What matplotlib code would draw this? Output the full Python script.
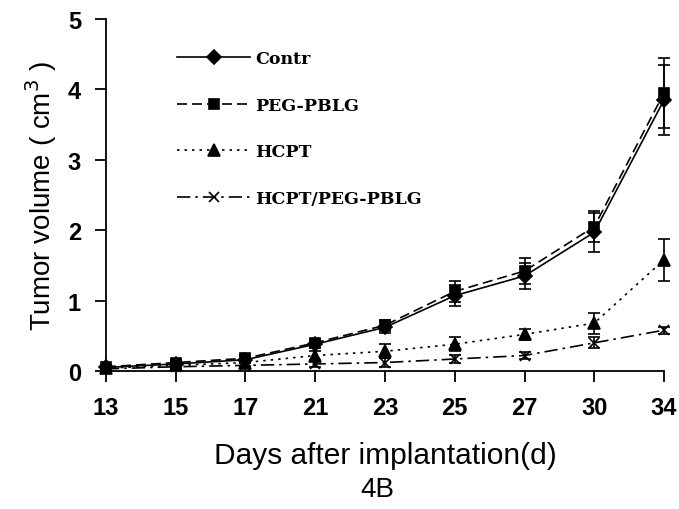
import matplotlib
matplotlib.use("Agg")
import matplotlib.pyplot as plt
from matplotlib.lines import Line2D
import numpy as np

days = ["13", "15", "17", "21", "23", "25", "27", "30", "34"]
contr = [0.05, 0.10, 0.16, 0.38, 0.62, 1.07, 1.35, 1.97, 3.85]
contr_err = [0.03, 0.04, 0.05, 0.06, 0.08, 0.15, 0.18, 0.28, 0.50]
peg = [0.06, 0.12, 0.18, 0.40, 0.65, 1.13, 1.42, 2.05, 3.95]
peg_err = [0.03, 0.04, 0.05, 0.06, 0.08, 0.15, 0.18, 0.22, 0.50]
hcpt = [0.04, 0.08, 0.12, 0.22, 0.28, 0.38, 0.52, 0.68, 1.58]
hcpt_err = [0.03, 0.04, 0.05, 0.06, 0.10, 0.10, 0.08, 0.15, 0.30]
combo = [0.03, 0.06, 0.08, 0.10, 0.12, 0.17, 0.22, 0.40, 0.58]
combo_err = [0.02, 0.03, 0.03, 0.04, 0.06, 0.06, 0.05, 0.08, 0.05]
labels = ["Contr", "PEG-PBLG", "HCPT", "HCPT/PEG-PBLG"]

fig = plt.figure(figsize=(6.79, 5.10), dpi=100)
ax = fig.add_axes([0.156, 0.2706, 0.822, 0.6904])
x = np.arange(len(days))

styles = [
    (contr, contr_err, "D", "-", 7),
    (peg, peg_err, "s", (0, (6, 3)), 7),
    (hcpt, hcpt_err, "^", (0, (1.5, 3)), 8),
    (combo, combo_err, "x", (0, (8, 3, 1.5, 3)), 7),
]
handles = []
for (vals, errs, m, ls, ms), lab in zip(styles, labels):
    eb = ax.errorbar(x, vals, yerr=errs, marker=m, linestyle=ls, color="black",
                     markersize=ms, linewidth=1.2, capsize=4.5, elinewidth=1.2,
                     capthick=1.2, markeredgewidth=1.2)
    eb.lines[0].set_clip_on(False)
    for c in eb.lines[1]:
        c.set_clip_on(False)
    for c in eb.lines[2]:
        c.set_clip_on(False)
    handles.append(Line2D([], [], marker=m, linestyle=ls, color="black",
                          markersize=ms, linewidth=1.2, markeredgewidth=1.2))

ax.set_xlim(0, 8)
ax.set_ylim(0, 5)
ax.set_xticks(x)
ax.set_xticklabels(days)
ax.set_yticks([0, 1, 2, 3, 4, 5])
for s in ["top", "right"]:
    ax.spines[s].set_visible(False)
for s in ["left", "bottom"]:
    ax.spines[s].set_linewidth(1.3)
ax.tick_params(direction="out", length=8, width=1.3, labelsize=17, pad=10)
for t in ax.get_xticklabels() + ax.get_yticklabels():
    t.set_fontweight("bold")
    t.set_fontfamily("Liberation Sans")

ax.set_xlabel("Days after implantation(d)", fontsize=21.5, family="Liberation Sans", labelpad=16)
ax.set_ylabel("Tumor volume ( cm$^3$ )", fontsize=20, family="Liberation Sans", labelpad=6)
fig.text(0.556, 0.025, "4B", fontsize=20, family="Liberation Sans", ha="center")

ax.legend(handles, labels, loc="upper left", bbox_to_anchor=(0.1, 0.955), frameon=False,
          prop={"family": "DejaVu Serif", "weight": "bold", "size": 12.5},
          handlelength=4.2, handletextpad=0.3, labelspacing=1.7)

fig.savefig("out.png", dpi=100)
